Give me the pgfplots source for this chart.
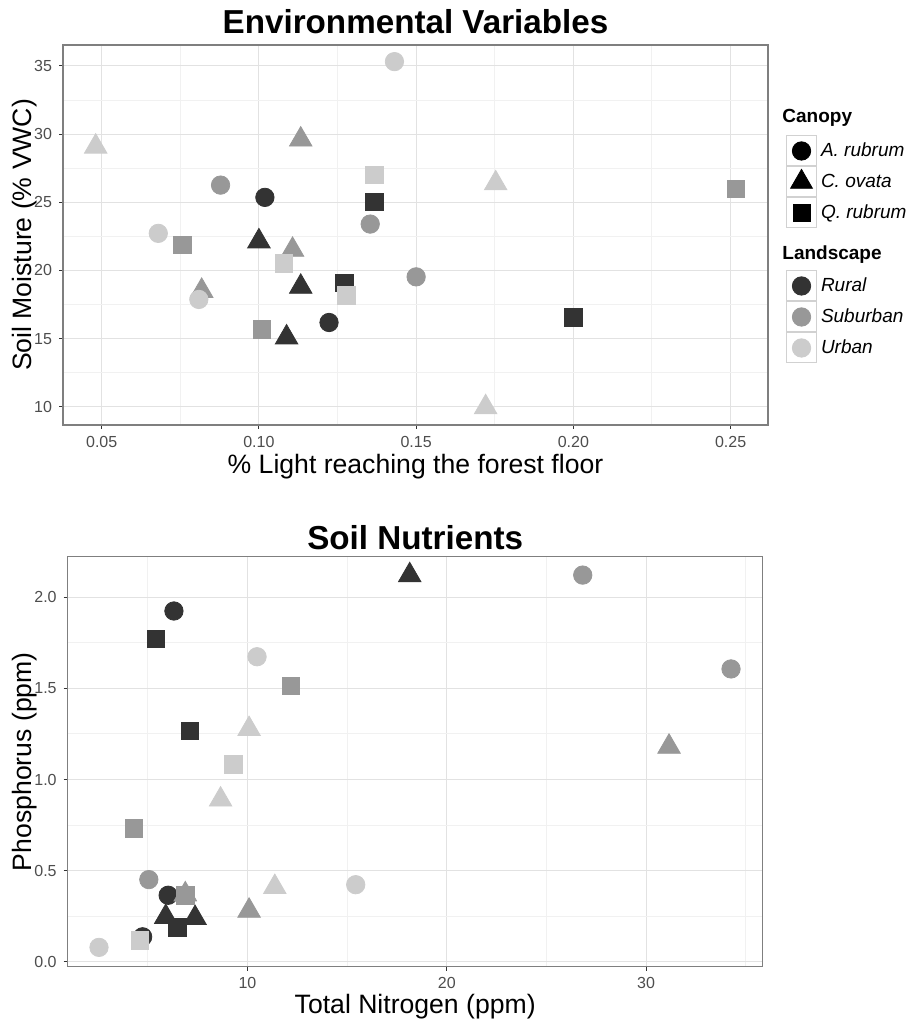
\documentclass[border=0pt]{standalone}
\usepackage{fontspec}
\setmainfont{Liberation Sans}
\usepackage{pgfplots}
\pgfplotsset{compat=1.18}

\definecolor{rural}{HTML}{333333}
\definecolor{suburban}{HTML}{989898}
\definecolor{urban}{HTML}{CCCCCC}
\definecolor{panelborder}{HTML}{7F7F7F}
\definecolor{gridmajor}{HTML}{E2E2E2}
\definecolor{gridminor}{HTML}{F1F1F1}
\definecolor{ticktext}{HTML}{4D4D4D}

\pgfplotsset{
  ggbw/.style={
    scale only axis,
    axis line style={panelborder, line width=0.7pt},
    grid=both,
    major grid style={gridmajor, line width=0.5pt},
    minor grid style={gridminor, line width=0.5pt},
    tick align=outside,
    tick pos=left,
    major tick length=2pt,
    minor tick length=0pt,
    major tick style={rural, line width=0.5pt},
    tick label style={font=\fontsize{8}{9.6}\selectfont, text=ticktext},
    label style={font=\fontsize{13.3}{16}\selectfont, inner sep=0pt},
    title style={font=\bfseries\fontsize{16.6}{20}\selectfont, inner sep=0pt, anchor=base},
    /pgf/number format/assume math mode=true,
  },
  ci/.style={only marks, mark=*, mark size=4.6pt},
  tr/.style={only marks, mark=triangle*, mark size=6.5pt},
  sq/.style={only marks, mark=square*, mark size=4.4pt},
  keybox/.style={only marks, legend image code/.code={
      \draw[draw=black!18, fill=white, line width=0.5pt] (0pt,-7.5pt) rectangle (15pt,7.5pt);
      \draw[##1] plot coordinates {(7.5pt,0pt)};
  }},
  keylegend/.style={
    hide axis, scale only axis, width=10pt, height=10pt,
    xmin=0, xmax=1, ymin=0, ymax=1, anchor=north west,
    legend cell align=left,
    legend style={at={(0,1)}, anchor=north west, draw=none, fill=none,
      inner sep=0pt, outer sep=0pt, row sep=0pt, column sep=2pt,
      nodes={inner sep=0pt, anchor=west},
      font=\itshape\fontsize{9.5}{11}\selectfont},
  },
}

\begin{document}
\begin{tikzpicture}
\path[use as bounding box] (0,0) rectangle (457pt,514pt);

% ---------------- Environmental Variables ----------------
\begin{axis}[ggbw,
  at={(31.5pt,301.5pt)}, anchor=south west,
  width=352.5pt, height=190pt,
  xmin=0.0377, xmax=0.2619, ymin=8.66, ymax=36.54,
  xtick={0.05,0.10,0.15,0.20,0.25},
  xticklabels={0.05,0.10,0.15,0.20,0.25},
  minor xtick={0.075,0.125,0.175,0.225},
  ytick={10,15,20,25,30,35},
  yticklabels={10,15,20,25,30,35},
  minor ytick={12.5,17.5,22.5,27.5,32.5},
  title={Environmental Variables},
  title style={at={(axis description cs:0.5,1)}, yshift=-0.5pt},
  xlabel={\% Light reaching the forest floor},
  xlabel style={at={(axis description cs:0.5,0)}, anchor=base, yshift=-24.5pt},
  ylabel={Soil Moisture (\% VWC)},
  ylabel style={at={(axis description cs:-0.044,0.5)}, anchor=base, rotate=0},
]
% Rural
\addplot[ci, rural] coordinates {(0.1019,25.36) (0.1223,16.18)};
\addplot[tr, rural] coordinates {(0.1000,22.13) (0.1133,18.80) (0.1088,15.08)};
\addplot[sq, rural] coordinates {(0.1368,25.04) (0.1271,19.09) (0.2000,16.55)};
% Suburban
\addplot[ci, suburban] coordinates {(0.0878,26.26) (0.1354,23.40) (0.1500,19.53)};
\addplot[tr, suburban] coordinates {(0.1133,29.60) (0.1107,21.51) (0.0818,18.50)};
\addplot[sq, suburban] coordinates {(0.0757,21.86) (0.1009,15.69) (0.2517,25.97)};
% Urban
\addplot[ci, urban] coordinates {(0.1431,35.32) (0.0680,22.72) (0.0809,17.87)};
\addplot[tr, urban] coordinates {(0.0481,29.08) (0.1753,26.39) (0.1721,9.96)};
\addplot[sq, urban] coordinates {(0.1368,27.00) (0.1080,20.51) (0.1278,18.19)};
\end{axis}

% ---------------- legends ----------------
\node[anchor=west, inner sep=0pt, font=\bfseries\fontsize{9.5}{11}\selectfont] at (391pt,455pt) {Canopy};
\begin{axis}[keylegend, at={(393pt,446.25pt)}]
\addlegendimage{keybox, black, mark=*, mark size=4.6pt}
\addlegendentry{A. rubrum}
\addlegendimage{keybox, black, mark=triangle*, mark size=6.3pt}
\addlegendentry{C. ovata}
\addlegendimage{keybox, black, mark=square*, mark size=4.3pt}
\addlegendentry{Q. rubrum}
\end{axis}

\node[anchor=west, inner sep=0pt, font=\bfseries\fontsize{9.5}{11}\selectfont] at (391pt,386.5pt) {Landscape};
\begin{axis}[keylegend, at={(393pt,378.75pt)}]
\addlegendimage{keybox, rural, mark=*, mark size=4.6pt}
\addlegendentry{Rural}
\addlegendimage{keybox, suburban, mark=*, mark size=4.6pt}
\addlegendentry{Suburban}
\addlegendimage{keybox, urban, mark=*, mark size=4.6pt}
\addlegendentry{Urban}
\end{axis}

% ---------------- Soil Nutrients ----------------
\begin{axis}[ggbw,
  at={(33.85pt,30.65pt)}, anchor=south west,
  width=347.5pt, height=205pt,
  xmin=0.98, xmax=35.85, ymin=-0.027, ymax=2.223,
  xtick={10,20,30},
  xticklabels={10,20,30},
  minor xtick={5,15,25,35},
  ytick={0,0.5,1,1.5,2},
  yticklabels={0.0,0.5,1.0,1.5,2.0},
  minor ytick={0.25,0.75,1.25,1.75},
  title={Soil Nutrients},
  title style={at={(axis description cs:0.5,1)}, yshift=-2.6pt},
  xlabel={Total Nitrogen (ppm)},
  xlabel style={at={(axis description cs:0.5,0)}, anchor=base, yshift=-23.5pt},
  ylabel={Phosphorus (ppm)},
  ylabel style={at={(axis description cs:-0.0514,0.5)}, anchor=base, rotate=0},
]
% Rural
\addplot[ci, rural] coordinates {(6.31,1.925) (6.02,0.365) (4.74,0.137)};
\addplot[tr, rural] coordinates {(18.14,2.121) (5.90,0.246) (7.37,0.240)};
\addplot[sq, rural] coordinates {(5.40,1.771) (7.11,1.267) (6.47,0.190)};
% Suburban
\addplot[ci, suburban] coordinates {(5.05,0.451) (26.82,2.122) (34.26,1.607)};
\addplot[tr, suburban] coordinates {(10.08,0.280) (6.88,0.370) (31.15,1.180)};
\addplot[sq, suburban] coordinates {(12.17,1.513) (4.30,0.731) (6.90,0.365)};
% Urban
\addplot[ci, urban] coordinates {(10.48,1.674) (2.55,0.079) (15.43,0.423)};
\addplot[tr, urban] coordinates {(10.08,1.277) (8.65,0.890) (11.37,0.410)};
\addplot[sq, urban] coordinates {(9.28,1.084) (4.60,0.118)};
\end{axis}
\end{tikzpicture}
\end{document}
